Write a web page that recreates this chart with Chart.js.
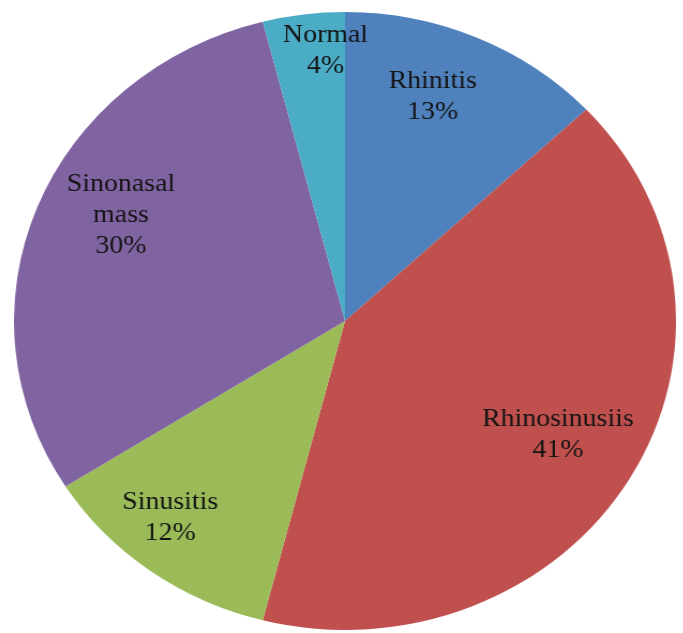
<!DOCTYPE html>
<html>
<head>
<meta charset="utf-8">
<title>Diagnosis pie</title>
<script src="https://cdn.jsdelivr.net/npm/chart.js@4.4.1/dist/chart.umd.min.js"></script>
<style>
    html, body { margin: 0; padding: 0; background: #fff; }
    body { width: 683px; height: 633px; position: relative; overflow: hidden; }
    /* 原图是横向拉伸过的饼图，这里用 scaleX 还原 */
    #wrap {
        position: absolute;
        left: 36px;
        top: 12px;
        width: 618px;
        height: 618px;
        transform: scaleX(1.0712);
        transform-origin: 309px 309px;
    }
</style>
</head>
<body>
<div id="wrap">
    <canvas id="pieChart" width="618" height="618"></canvas>
</div>
<script>
// 数据
const categories = ['Rhinitis', 'Rhinosinusiis', 'Sinusitis', 'Sinonasal mass', 'Normal'];
const percents = [13, 41, 12, 30, 4];
const labelLines = [['Rhinitis'], ['Rhinosinusiis'], ['Sinusitis'], ['Sinonasal', 'mass'], ['Normal']];

const colors = ['#4F81BD', '#C0504D', '#9BBB59', '#8064A2', '#4BACC6'];

// 标签位置：半径比例 + 角度微调（度）
const labelRadius = [0.782, 0.736, 0.818, 0.763, 0.887];
const labelNudge = [-3.6, -1.5, 4.2, 5.9, 3.4];

/**
 * 找一个真正装了的衬线字体（和 monospace 宽度比较）
 */
function pickSerif() {
    const names = ['Liberation Serif', 'Tinos', 'Times New Roman', 'Times', 'DejaVu Serif',
        'Noto Serif', 'FreeSerif', 'Nimbus Roman'];
    const c = document.createElement('canvas').getContext('2d');
    const sample = 'Rhinosinusiis 13% mass';
    c.font = '40px monospace';
    const base = c.measureText(sample).width;
    for (const n of names) {
        c.font = '40px "' + n + '", monospace';
        if (Math.abs(c.measureText(sample).width - base) > 0.5) return '"' + n + '", serif';
    }
    return 'serif';
}

const LABEL_FONT = '26px ' + pickSerif();

const sliceLabels = {
    id: 'sliceLabels',
    afterDatasetsDraw(chart) {
        const ctx = chart.ctx;
        const meta = chart.getDatasetMeta(0);
        const lineH = 31;
        const shiftY = 3.5; // middle 基线略偏上，往下挪一点
        ctx.save();
        ctx.font = LABEL_FONT;
        ctx.fillStyle = '#141414';
        ctx.textAlign = 'center';
        ctx.textBaseline = 'middle';
        meta.data.forEach((arc, i) => {
            const p = arc.getProps(['x', 'y', 'startAngle', 'endAngle', 'outerRadius'], true);
            const mid = (p.startAngle + p.endAngle) / 2 + labelNudge[i] * Math.PI / 180;
            const r = p.outerRadius * labelRadius[i];
            const cx = p.x + Math.cos(mid) * r;
            const cy = p.y + Math.sin(mid) * r + shiftY;
            const lines = labelLines[i].concat([percents[i] + '%']);
            const top = cy - (lines.length - 1) * lineH / 2;
            lines.forEach((t, k) => ctx.fillText(t, cx, top + k * lineH));
        });
        ctx.restore();
    }
};

new Chart(document.getElementById('pieChart'), {
    type: 'pie',
    data: {
        labels: categories,
        datasets: [{
            data: percents,
            backgroundColor: colors,
            borderWidth: 0
        }]
    },
    options: {
        responsive: false,
        animation: false,
        layout: { padding: 0 },
        plugins: {
            legend: { display: false },
            tooltip: { enabled: false }
        }
    },
    plugins: [sliceLabels]
});
</script>
</body>
</html>
